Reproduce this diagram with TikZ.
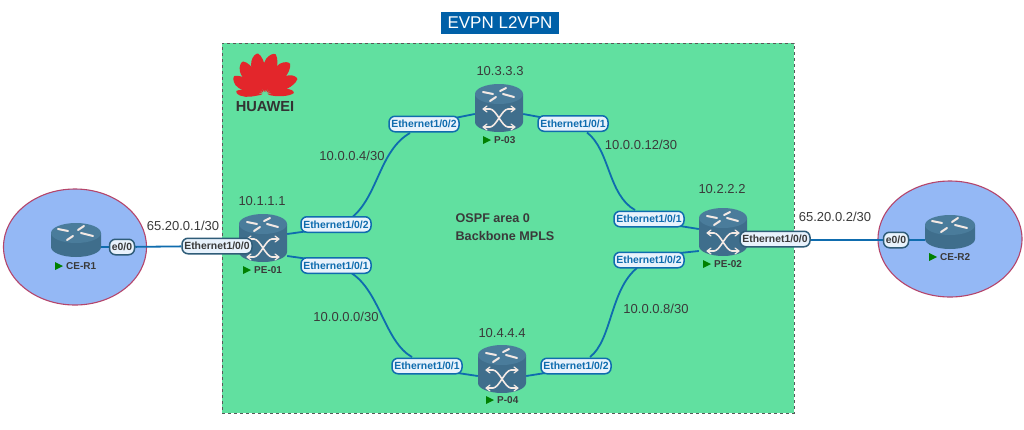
\documentclass[tikz,border=0pt]{standalone}
\usepackage{fontspec}
\usetikzlibrary{shapes.geometric,backgrounds}
\setmainfont{Liberation Sans}
\definecolor{rbody}{HTML}{3F6E8C}
\definecolor{rtop}{HTML}{4A7C9B}
\definecolor{rdark}{HTML}{2F5C78}
\definecolor{linkc}{HTML}{0F6CAE}
\definecolor{boxg}{HTML}{61E0A0}
\definecolor{ceb}{HTML}{94B8F5}
\definecolor{cer}{HTML}{B5456B}
\definecolor{lblfill}{HTML}{E8F2FC}
\definecolor{txt}{HTML}{3A3A3A}
\definecolor{hwred}{HTML}{E3262B}
\definecolor{titleb}{HTML}{0060A8}
\definecolor{arr}{HTML}{F3E9E4}
\pgfdeclarelayer{links}
\pgfsetlayers{background,links,main}
\tikzset{
  x=1pt,y=-1pt,
  link/.style={draw=linkc,line width=1.8pt},
  iflbl/.style={draw=linkc,line width=1.5pt,fill=lblfill,rounded corners=6pt,text=linkc,
    font=\fontsize{10.4}{11}\selectfont\bfseries,inner sep=0pt,minimum height=15.5pt,text width=#1,align=center},
  iflbl/.default=70pt,
  extlbl/.style={iflbl=#1,draw=rdark,fill=lblfill,text=txt},
  extlbl/.default=70pt,
  addr/.style={font=\fontsize{13}{15}\selectfont,text=txt,inner sep=0pt},
  rname/.style={font=\fontsize{10}{11}\selectfont\bfseries,text=txt,inner sep=0pt},
  gtri/.style={fill=green!50!black,draw=none},
  arroww/.style={draw=arr,line width=1.6pt,line cap=round,line join=round},
  site/.style={draw=cer,fill=ceb,line width=1.1pt,ellipse,minimum height=116pt,inner sep=0pt},
}
\newcommand{\xrouter}[3]{% name, cx, top
  \fill[rbody] (#2-24,#3+10) -- (#2-24,#3+38) arc[start angle=180,end angle=360,x radius=24pt,y radius=10pt] -- (#2+24,#3+10) -- cycle;
  \fill[rtop] (#2,#3+10) ellipse [x radius=24pt,y radius=10pt];
  \draw[arroww,line width=2pt] (#2-16,#3+8) -- (#2-6,#3+10);
  \draw[arroww,line width=2pt] (#2+1,#3+7) -- (#2+7,#3+4);
  \draw[arroww,line width=2pt] (#2-9,#3+17) -- (#2-3,#3+13);
  \draw[arroww,line width=2pt] (#2+4,#3+10) -- (#2+15,#3+13);
  \draw[arroww] (#2-15,#3+25) -- (#2-9,#3+25) .. controls (#2-3,#3+25) and (#2+3,#3+43) .. (#2+9,#3+43) -- (#2+15,#3+43);
  \draw[arroww] (#2-15,#3+43) -- (#2-9,#3+43) .. controls (#2-3,#3+43) and (#2+3,#3+25) .. (#2+9,#3+25) -- (#2+15,#3+25);
  \draw[arroww,line width=1.2pt] (#2-12,#3+22) -- (#2-16,#3+25) -- (#2-12,#3+28);
  \draw[arroww,line width=1.2pt] (#2+12,#3+22) -- (#2+16,#3+25) -- (#2+12,#3+28);
  \draw[arroww,line width=1.2pt] (#2-12,#3+40) -- (#2-16,#3+43) -- (#2-12,#3+46);
  \draw[arroww,line width=1.2pt] (#2+12,#3+40) -- (#2+16,#3+43) -- (#2+12,#3+46);
  \node[minimum width=48pt,minimum height=48pt,inner sep=0pt] (#1) at (#2,#3+24) {};
}
\newcommand{\crouter}[3]{%
  \fill[rbody] (#2-25,#3+10) -- (#2-25,#3+24) arc[start angle=180,end angle=360,x radius=25pt,y radius=10pt] -- (#2+25,#3+10) -- cycle;
  \fill[rtop] (#2,#3+10) ellipse [x radius=25pt,y radius=10pt];
  \draw[arroww,line width=2pt] (#2-18,#3+6) -- (#2-8,#3+8);
  \draw[arroww,line width=2pt] (#2+2,#3+7) -- (#2+8,#3+3);
  \draw[arroww,line width=2pt] (#2-9,#3+17) -- (#2-3,#3+13);
  \draw[arroww,line width=2pt] (#2+5,#3+10) -- (#2+17,#3+13);
  \node[minimum width=50pt,minimum height=34pt,inner sep=0pt] (#1) at (#2,#3+17) {};
}
\newcommand{\rlabel}[4]{% node name, cx, y, text
  \fill[gtri] (#2-20,#3-4) -- (#2-12,#3) -- (#2-20,#3+4) -- cycle;
  \node[rname,anchor=west] (#1) at (#2-9,#3) {#4};
}
\newcommand{\petal}[3]{% angle, length, half width
  \fill[hwred,rotate around={#1:(265,95)}] (265,92) .. controls (265-#3*.5,92-#2*.25) and (265-#3*1.3,95-#2*.6) .. (265-#3*.8,95-#2*.85) .. controls (265-#3*.5,95-#2*.97) and (265,95-#2*1.02) .. (265+#3*.25,95-#2) .. controls (265+#3,95-#2*.85) and (265+#3*.9,95-#2*.4) .. (265,92) -- cycle;
}
\begin{document}
\begin{tikzpicture}
\useasboundingbox (0,0) rectangle (1024,429);
\begin{scope}[on background layer]
\fill[white] (0,0) rectangle (1024,429);
\node[draw=gray!70!black,dashed,line width=.6pt,fill=boxg,minimum width=572pt,minimum height=370pt,inner sep=0pt] (area) at (508,228) {};
\node[site,minimum width=143pt] (siteA) at (75,247) {};
\node[site,minimum width=144pt] (siteB) at (950,239) {};
\end{scope}

\node[fill=titleb,text=white,font=\fontsize{17}{18}\selectfont,minimum width=118pt,minimum height=22pt,inner sep=0pt] (title) at (500,23) {EVPN L2VPN};

% logo
\petal{-84}{29}{4}
\petal{84}{29}{4}
\petal{-61}{36}{7}
\petal{61}{36}{7}
\petal{-36}{40}{8}
\petal{36}{40}{8}
\petal{-12}{42}{8}
\petal{12}{42}{8}
\node[font=\fontsize{14.6}{15}\selectfont\bfseries,text=black!80,inner sep=0pt] (logo) at (265,107) {HUAWEI};

% routers
\crouter{ce1}{76}{223}
\crouter{ce2}{950}{215}
\xrouter{pe1}{263}{214}
\xrouter{pe2}{723}{208}
\xrouter{p3}{499}{84}
\xrouter{p4}{502}{345}
\rlabel{ce1n}{75}{266}{CE-R1}
\rlabel{ce2n}{949}{257}{CE-R2}
\rlabel{pe1n}{263}{270}{PE-01}
\rlabel{pe2n}{723}{264}{PE-02}
\rlabel{p3n}{503}{140}{P-03}
\rlabel{p4n}{506}{400}{P-04}

% interface labels
\node[iflbl] (a2) at (336,224.5) {Ethernet1/0/2};
\node[iflbl] (a1) at (336,265.5) {Ethernet1/0/1};
\node[iflbl] (b2) at (424,124) {Ethernet1/0/2};
\node[iflbl] (b1) at (573,123.5) {Ethernet1/0/1};
\node[iflbl] (c1) at (649,219) {Ethernet1/0/1};
\node[iflbl] (c2) at (649,260) {Ethernet1/0/2};
\node[iflbl] (d1) at (427,366) {Ethernet1/0/1};
\node[iflbl] (d2) at (576,366) {Ethernet1/0/2};
\node[extlbl=25pt] (e1) at (122,247) {e0/0};
\node[extlbl=25pt] (e2) at (896,240) {e0/0};
\node[extlbl] (f1) at (217,246) {Ethernet1/0/0};
\node[extlbl] (f2) at (775,239) {Ethernet1/0/0};

% connectors, under the nodes
\begin{pgfonlayer}{links}
\draw[link] ([shift={(0,-4)}]pe1.east) -- ([shift={(5,7)}]a2.west);
\draw[link] ([shift={(0,18)}]pe1.east) -- ([shift={(5,-7)}]a1.west);
\draw[link] ([shift={(0,6)}]p3.west) -- ([shift={(-5,-6)}]b2.east);
\draw[link] ([shift={(0,6)}]p3.east) -- ([shift={(5,-6)}]b1.west);
\draw[link] ([shift={(0,-3)}]pe2.west) -- ([shift={(-5,7)}]c1.east);
\draw[link] ([shift={(0,19)}]pe2.west) -- ([shift={(-5,-7)}]c2.east);
\draw[link] ([shift={(0,7)}]p4.west) -- ([shift={(-5,7)}]d1.east);
\draw[link] ([shift={(0,7)}]p4.east) -- ([shift={(5,7)}]d2.west);
\draw[link] ([shift={(17,-8)}]a2.center) .. controls (378,195) and (380,150) .. ([shift={(-14,9)}]b2.center);
\draw[link] ([shift={(16,8)}]a1.center) .. controls (380,292) and (385,342) .. ([shift={(-15,-9)}]d1.center);
\draw[link] ([shift={(14,9)}]b1.center) .. controls (610,150) and (608,195) .. ([shift={(-14,-9)}]c1.center);
\draw[link] ([shift={(-12,8)}]c2.center) .. controls (610,290) and (612,340) .. ([shift={(14,-9)}]d2.center);
\draw[link] (ce1.east|-e1) -- (e1);
\draw[link] (e1) -- (f1);
\draw[link] (e2) -- (ce2.west|-e2);
\draw[link] (f2.east|-e2) -- (e2);
\end{pgfonlayer}

% addresses
\node[addr] (n1) at (500,71) {10.3.3.3};
\node[addr] (n2) at (262,201) {10.1.1.1};
\node[addr] (n3) at (722,189) {10.2.2.2};
\node[addr] (n4) at (502,333) {10.4.4.4};
\node[addr] (n5) at (352,156) {10.0.0.4/30};
\node[addr] (n6) at (641,145) {10.0.0.12/30};
\node[addr] (n7) at (346,317) {10.0.0.0/30};
\node[addr] (n8) at (656,309) {10.0.0.8/30};
\node[addr] (n9) at (183,226) {65.20.0.1/30};
\node[addr] (n10) at (835,217) {65.20.0.2/30};
\node[font=\fontsize{12.6}{18}\selectfont\bfseries,text=txt,align=left,inner sep=0pt] (ospf) at (505,227) {OSPF area 0\\Backbone MPLS};
\end{tikzpicture}
\end{document}
